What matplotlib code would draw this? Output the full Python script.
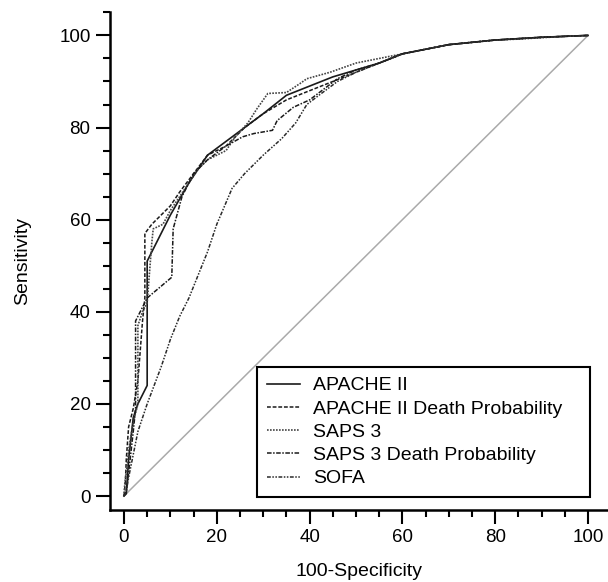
import matplotlib
matplotlib.use("Agg")
import matplotlib.pyplot as plt
from matplotlib.ticker import MultipleLocator

plt.rcParams['font.family'] = ['Liberation Sans', 'DejaVu Sans']

# ROC curves (100-Specificity, Sensitivity)
apache_x = [0, 0.5, 1, 2, 3, 5, 5, 7, 10, 14, 18, 22, 26, 30, 35, 40, 45, 50, 55, 60, 65, 70, 75, 80, 85, 90, 95, 100]
apache_y = [0, 0.5, 8, 17, 20, 24, 51, 55, 61, 68, 74, 77, 80, 83, 87, 89, 91, 92.5, 94, 96, 97, 98, 98.5, 99, 99.3, 99.6, 99.8, 100]

apache_dp_x = [0, 0.3, 0.5, 1, 2, 3, 4, 4.5, 4.5, 6, 8, 10, 12, 15, 18, 22, 26, 30, 35, 40, 45, 50, 55, 60, 70, 80, 90, 100]
apache_dp_y = [0, 3, 8, 15, 19, 25, 38, 43, 57, 59, 61, 63, 66, 70, 74, 76, 80, 83, 86, 88, 90, 92, 94, 96, 98, 99, 99.6, 100]

saps_x = [0, 0.2, 0.5, 1, 2, 3, 3, 4, 5, 6, 6.3, 8.4, 10, 12, 14, 16, 18, 20, 22, 24, 26.7, 28.6, 31, 35, 38, 39.4, 44.4, 50, 55, 60, 65, 70, 75, 80, 85, 90, 95, 100]
saps_y = [0, 3, 5, 10, 16, 20, 37, 40, 42, 55, 58, 59, 62, 65, 68, 71, 73, 74, 75, 78, 81, 84, 87.4, 87.6, 89.6, 90.6, 92, 94, 95, 96, 97, 98, 98.5, 99, 99.2, 99.5, 99.8, 100]

saps_dp_x = [0, 0.5, 1, 2, 2.5, 2.5, 5, 10.3, 10.6, 12.5, 15, 18, 22, 25.6, 28, 32, 33, 36.5, 40, 46, 50, 55, 60, 70, 80, 90, 100]
saps_dp_y = [0, 1, 5, 14, 19, 38, 43, 47.5, 58, 65, 70, 73, 76, 78, 78.7, 79.4, 81.5, 84.4, 86, 90.6, 92.5, 94, 96, 98, 99, 99.6, 100]

sofa_x = [0, 0.5, 1, 2, 3, 5, 8, 10, 12, 14, 16, 18, 20, 23.3, 26, 30, 34, 37, 39.4, 42, 46, 50, 55, 60, 65, 70, 80, 90, 100]
sofa_y = [0, 1, 4, 9, 14, 20, 28, 34, 39, 43, 48, 53, 59, 66.8, 70, 74, 77.6, 81, 85, 87, 90, 92, 94, 96, 97, 98, 99, 99.6, 100]

labels = ["APACHE II", "APACHE II Death Probability", "SAPS 3",
          "SAPS 3 Death Probability", "SOFA"]
xticks = [0, 20, 40, 60, 80, 100]
yticks = [0, 20, 40, 60, 80, 100]

fig = plt.figure(figsize=(6.08, 5.82), dpi=100)
ax = fig.add_axes([0.181, 0.1237, 0.819, 0.855])

ax.plot([0, 100], [0, 100], color='#aaaaaa', lw=1.1, zorder=1)

ax.plot(apache_x, apache_y, color='#1a1a1a', lw=1.2, ls='-', label=labels[0])
ax.plot(apache_dp_x, apache_dp_y, color='#1a1a1a', lw=1.1, ls=(0, (2.5, 1.2)), label=labels[1])
ax.plot(saps_x, saps_y, color='#444444', lw=1.2, ls=(0, (1, 0.8)), label=labels[2])
ax.plot(saps_dp_x, saps_dp_y, color='#1a1a1a', lw=1.1, ls=(0, (3, 1, 1, 1)), label=labels[3])
ax.plot(sofa_x, sofa_y, color='#2a2a2a', lw=1.1, ls=(0, (2.5, 1, 1, 1, 1, 1)), label=labels[4])

ax.set_xlim(-3.0, 104.3)
ax.set_ylim(-3.04, 105)
ax.set_xticks(xticks)
ax.set_yticks(yticks)
ax.xaxis.set_minor_locator(MultipleLocator(5))
ax.yaxis.set_minor_locator(MultipleLocator(5))

for s in ['top', 'right']:
    ax.spines[s].set_visible(False)
for s in ['left', 'bottom']:
    ax.spines[s].set_linewidth(1.8)
ax.tick_params(which='major', direction='out', length=10, width=1.5, labelsize=13.5, pad=4)
ax.tick_params(which='minor', direction='out', length=5, width=1.5)

ax.set_xlabel("100-Specificity", fontsize=14, labelpad=12)
ax.set_ylabel("Sensitivity", fontsize=14, labelpad=20)

leg = ax.legend(loc='lower left', bbox_to_anchor=(0.295, 0.026, 0.669, 0.26), mode='expand',
                fontsize=14, frameon=True, fancybox=False, edgecolor='black', framealpha=1,
                handlelength=1.7, labelspacing=0.29, borderpad=0.5, handletextpad=0.67,
                borderaxespad=0)
leg.get_frame().set_linewidth(1.5)

fig.savefig("out.png", dpi=100)
